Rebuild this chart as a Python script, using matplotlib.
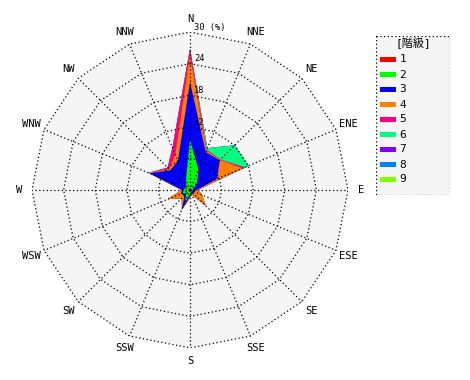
import numpy as np
import matplotlib
matplotlib.use("Agg")
import matplotlib.pyplot as plt
from matplotlib.patches import Rectangle

# ---------------- data ----------------
directions = ["N", "NNE", "NE", "ENE", "E", "ESE", "SE", "SSE",
              "S", "SSW", "SW", "WSW", "W", "WNW", "NW", "NNW"]
classes = ["1", "2", "3", "4", "5", "6", "7", "8", "9"]
colors = ["#ff0000", "#00ff00", "#0000ff", "#ff8000", "#ff0080",
          "#00ff80", "#8000ff", "#0080ff", "#80ff00"]

# frequency (%) of each class per direction (N, NNE, ... NNW)
class1 = [0.4, 0.3, 0.3, 0.2, 0.2, 0.2, 0.2, 0.2, 0.3, 0.3, 0.3, 0.3, 0.3, 0.3, 0.3, 0.3]
class2 = [9.1, 3.9, 1.6, 0.6, 0.3, 0.2, 0.3, 0.2, 0.5, 2.2, 0.7, 1.2, 0.9, 0.7, 0.7, 1.7]
class3 = [11.0, 3.6, 6.1, 4.8, 0.8, 0.4, 0.4, 0.2, 0.4, 1.5, 0.5, 0.3, 0.3, 7.3, 4.3, 4.0]
class4 = [5.1, 0.3, 0.1, 5.2, 0.2, 1.7, 3.3, 0.4, 0.3, 0.0, 0.7, 2.7, 0.1, 0.2, 0.3, 1.3]
class5 = [1.2, 0.2, 0.1, 0.5, 0.0, 0.0, 0.0, 0.0, 0.0, 0.0, 0.0, 0.0, 0.0, 0.0, 0.4, 1.4]
class6 = [0.0, 0.3, 3.8, 0.7, 0.0, 0.0, 0.0, 0.0, 0.0, 0.0, 0.0, 0.0, 0.0, 0.0, 0.0, 0.0]
class7 = [0.0] * 16
class8 = [0.0] * 16
class9 = [0.0] * 16
series = [class1, class2, class3, class4, class5, class6, class7, class8, class9]

ring_values = [6, 12, 18, 24, 30]
ring_labels = ["6", "12", "18", "24", "30 (%)"]
legend_title = "[階級]"

# ---------------- figure ----------------
W, H = 470, 380
fig = plt.figure(figsize=(W / 100, H / 100), dpi=100)
fig.patch.set_facecolor("white")
mono = ["DejaVu Sans Mono", "Noto Sans CJK JP"]

cx, cy, R = 190, 190, 158
rmax = 30.0
ax = fig.add_axes([(cx - R) / W, (H - cy - R) / H, 2 * R / W, 2 * R / H])
ax.set_xlim(-rmax, rmax)
ax.set_ylim(-rmax, rmax)
ax.set_aspect("equal")
ax.axis("off")

az = np.deg2rad(np.arange(16) * 22.5)


def poly(r):
    r = np.asarray(r, dtype=float)
    x = r * np.sin(az)
    y = r * np.cos(az)
    return np.append(x, x[0]), np.append(y, y[0])


# background of the rose
bx, by = poly([rmax] * 16)
ax.fill(bx, by, color="#f5f5f5", lw=0, zorder=0)

# stacked cumulative polygons, largest first
cum = np.cumsum(np.array(series), axis=0)
for k in range(len(series) - 1, -1, -1):
    px, py = poly(cum[k])
    ax.fill(px, py, color=colors[k], lw=0, zorder=2)

# grid
dot = (0, (1, 2))
for rv in ring_values:
    gx, gy = poly([rv] * 16)
    ax.plot(gx, gy, color="black", lw=0.9, ls=dot, zorder=3)
for a in az:
    ax.plot([0, rmax * np.sin(a)], [0, rmax * np.cos(a)], color="black",
            lw=0.9, ls=dot, zorder=3)

# ring labels
for rv, lab in zip(ring_values, ring_labels):
    ax.text(0.75, rv + 0.9, lab, fontsize=6.3, family=mono, ha="left",
            va="center", zorder=4)

# direction labels
lab_r = 32.5
for a, d in zip(az, directions):
    ax.text(lab_r * np.sin(a), lab_r * np.cos(a), d, fontsize=7.5,
            family=mono, ha="center", va="center", clip_on=False)

# ---------------- legend ----------------
lx0, ly0, lx1, ly1 = 375.7, 35.7, 450.3, 195.0
lax = fig.add_axes([lx0 / W, (H - ly1) / H, (lx1 - lx0) / W, (ly1 - ly0) / H])
lax.set_xlim(lx0, lx1)
lax.set_ylim(ly1, ly0)
lax.axis("off")
lax.add_patch(Rectangle((lx0 + 0.5, ly0 + 0.5), lx1 - lx0 - 1, ly1 - ly0 - 1,
                        facecolor="#f5f5f5", edgecolor="black", lw=0.9,
                        ls=dot))
lax.text((lx0 + lx1) / 2, 43.5, legend_title, fontsize=8, family=mono,
         ha="center", va="center")
for i, (c, lab) in enumerate(zip(colors, classes)):
    yy = 59.5 + i * 15.0
    lax.add_patch(Rectangle((380, yy - 2.5), 16, 5, facecolor=c, lw=0))
    lax.text(399.5, yy, lab, fontsize=8, family=mono, ha="left", va="center")

fig.savefig("out.png", dpi=100)
